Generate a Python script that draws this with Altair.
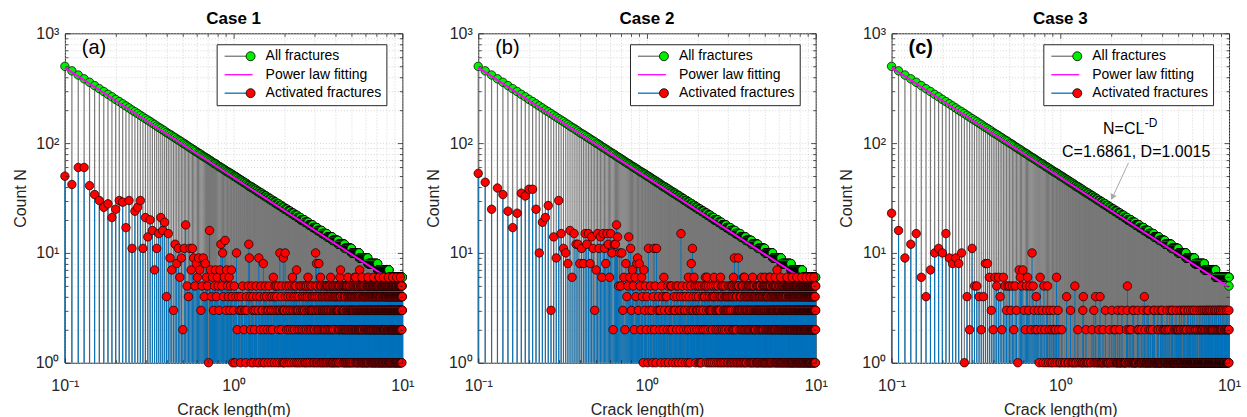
import altair as alt
import numpy as np
import pandas as pd

FONT = "Liberation Sans"
INK = "#262626"
GREEN = "#00ee00"
RED = "#ff0000"
BLUE = "#0072bd"
GRAY = "#787878"
MAGENTA = "#ff00ff"
ARROW = "#a8a8a8"

# ---------------- data ----------------
# crack-length bins (m): 0.10 ... 10.00, one bin per 0.01 m
LENGTH_BINS_CM = np.arange(10, 1001)
LENGTHS = LENGTH_BINS_CM / 100.0

# all fractures, bins 0.10 ... 0.99 m
ALL_HEAD = [500, 455, 417, 385, 358, 334, 313, 295, 278, 264,
            250, 239, 228, 218, 209, 200, 193, 186, 179, 173,
            167, 162, 157, 152, 148, 143, 139, 136, 132, 129,
            125, 122, 120, 117, 114, 112, 109, 107, 105, 103,
            100, 99, 97, 95, 93, 91, 90, 88, 87, 85,
            84, 82, 81, 80, 79, 77, 76, 75, 74, 73,
            72, 71, 70, 69, 68, 67, 66, 65, 65, 64,
            63, 62, 61, 61, 60, 59, 59, 58, 57, 57,
            56, 55, 55, 54, 54, 53, 53, 52, 52, 51]
# all fractures from 1.00 m on: count and number of consecutive bins holding it
ALL_RUN_VALUES = [50, 49, 48, 47, 46, 45, 44, 43, 42, 41, 40, 39, 38, 37, 36, 35,
                  34, 33, 32, 31, 30, 29, 28, 27, 26, 25, 24, 23, 22, 21, 20, 19,
                  18, 17, 16, 15, 14, 13, 12, 11, 10, 9, 8, 7, 6, 5]
ALL_RUN_LENGTHS = [3, 2, 2, 2, 3, 2, 3, 3, 2, 3, 4, 3, 4, 3, 4, 5,
                   4, 5, 5, 5, 6, 6, 7, 7, 7, 9, 9, 10, 11, 11, 14, 14,
                   17, 18, 21, 24, 27, 32, 38, 45, 56, 69, 90, 119, 166, 1]

# activated fractures, bins 0.10 ... 0.69 m
ACT_HEAD_A = [50, 42, 60, 60, 41, 34, 30, 26, 28, 21,
              25, 30, 29, 17, 30, 11, 24, 26, 30, 11,
              21, 14, 20, 16, 7, 11, 15, 21, 16, 19,
              4, 15, 9, 7, 3, 12, 8, 11, 6, 9,
              2, 11, 18, 5, 4, 11, 7, 11, 9, 5,
              8, 6, 9, 7, 3, 5, 9, 4, 8, 6]
ACT_HEAD_B = [53, 44, 25, 39, 34, 24, 17, 23, 35, 33,
              38, 38, 25, 10, 19, 21, 27, 3, 14, 9,
              30, 15, 11, 10, 8, 16, 6, 15, 12, 12,
              8, 11, 8, 15, 12, 15, 8, 14, 11, 3,
              7, 15, 11, 14, 6, 15, 11, 8, 15, 12,
              6, 15, 10, 2, 12, 12, 18, 14, 5, 10]
ACT_HEAD_C = [23, 16, 9, 12, 15, 6, 4, 7, 10, 11,
              10, 15, 9, 8, 9, 8, 10, 1, 4, 2,
              11, 5, 5, 4, 2, 4, 8, 8, 6, 3,
              2, 6, 5, 6, 4, 2, 6, 5, 3, 5,
              5, 3, 5, 2, 5, 3, 1, 7, 6, 5,
              7, 3, 2, 5, 6, 3, 5, 2, 10, 5]

# activated fractures, bins 0.70 ... 10.00 m, one base-36 digit per bin (0 = none)
ACT_DENSE_A = [
    "51g7463574", "6537c5a46d", "3754635741",
    "3514a20433", "1435023314", "305c942153", "4132035410", "3914250331",
    "8241530423", "1350423134", "2063145035", "41305231a3", "0425133913",
    "31a4052313", "4205133240", "1536204315", "2403517342", "3130425103",
    "3520143235", "0413325140", "5231406352", "1403325134", "3250431302",
    "412035a431", "8025143320", "8314025631", "0524133402", "3150423315",
    "2403135042", "5132403351", "0425316240", "3315024153", "1240533314",
    "4025133043", "1530423315", "2413052640", "7041352303", "3520413325",
    "1033425140", "4215033251", "0354126430", "2315043152", "5041323304",
    "1325043231", "4051332504", "3260415326", "0413523041", "2533014352",
    "4102533274", "3140325031", "0523416352", "3214035140", "3405123304",
    "2153403231", "4033125403", "1524036152", "3041523340", "5230413235",
    "0415323041", "2335014352", "4103526214", "3250413305", "1423035142",
    "3041523340", "5214033251", "0352416304", "6150324133", "2403513240",
    "4125033153", "3502413325", "1046325041", "2315043232", "5024133405",
    "3150423314", "5041325303", "2405136240", "1523043315", "4032513342",
    "0314325041", "3250413235", "4103526204", "2533014352", "1402533143",
    "3025143302", "4153023415", "0342516234", "5104323140", "2435013325",
    "3041523403", "1520433152", "4036125340", "2514033214", "3405123343",
    "4",
]
ACT_DENSE_B = [
    "5a362845e6", "b375264893", "8526417352",
    "41b3052314", "b251b30432", "3150426314", "0425133250", "5213043315",
    "240513324f", "3150423031", "4025316240", "135823b043", "6205143325",
    "3041523130", "1524033245", "4062513604", "2513043312", "5304123450",
    "6140325031", "2435013243", "0316425150", "4205133324", "1530423041",
    "3041523304", "2513043152", "0425136240", "9152033415", "2403135093",
    "5130423314", "0425133250", "3516024136", "4203513240", "1350423305",
    "2415033241", "5032413350", "1246035124", "3051423032", "4230135413",
    "0315243130", "2543013245", "5130426301", "3204135420", "1352043153",
    "6130425314", "2405133240", "5014323051", "3260415362", "1534023143",
    "4021533240", "0353124530", "2413056241", "5302413350", "7140323041",
    "3251043325", "0413523041", "4620135240", "2135043312", "5041323405",
    "1352043130", "3024513243", "0415236510", "2533014325", "4103523041",
    "5230143352", "0413325041", "3125046312", "4052133405", "1343025134",
    "2501433250", "4130523341", "0526314052", "3214053213", "5043123340",
    "1352043135", "4025133402", "2514036251", "0343125034", "5102433510",
    "3250413325", "1423035142", "4035126403", "2514303251", "0352413034",
    "5140323514", "2305143230", "4152036415", "1523043152", "3041523304",
    "0254133025", "5132403513", "2405136240", "4310523431", "1524033152",
    "3",
]
ACT_DENSE_C = [
    "3242316231", "5213512312", "1321261321",
    "1021001104", "0110031010", "1051100210", "0100113410", "1021010100",
    "0110200130", "1041001012", "0140101102", "1010031010", "0110120010",
    "1030010120", "0120011013", "1001021101", "0130010011", "1001101203",
    "5011002100", "1020110013", "0131010110", "1010012030", "0121010100",
    "1021011003", "0110041021", "1001101310", "0130120101", "1012001010",
    "0121003010", "1031110100", "0110012013", "1201101100", "0112013101",
    "1030012010", "0120101021", "1012011003", "0101021010", "1021003110",
    "0110012013", "1031001011", "0120110102", "1010031020", "0101012101",
    "1020011030", "0110201012", "1031001100", "0100121013", "1012010301",
    "0101002110", "1021010013", "0110310100", "1002011020", "0131001101",
    "1020110013", "0101201100", "1030010121", "0110021010", "1001031002",
    "0120101100", "1011003012", "0102110100", "1030012010", "0110201013",
    "1021001100", "0101301021", "1010012010", "0130101003", "1002011010",
    "0110230101", "1021001013", "0101120100", "1030012010", "0111002103",
    "1020101100", "0110021013", "1001103010", "0120010201", "1031001010",
    "0102110120", "1010031003", "0120101100", "1001021013", "0110302010",
    "1021001100", "0101021013", "1030101010", "0110012100", "1002013010",
    "0121001101", "1010120013", "0103011010", "1020101200", "0111002013",
    "2",
]

# power-law fit end points
FIT_L = [0.1, 10.0]
FIT_N = [487.0, 4.85]

TITLES = ["Case 1", "Case 2", "Case 3"]
TAGS = ["(a)", "(b)", "(c)"]
TAG_WEIGHTS = ["normal", "normal", "bold"]
SERIES = ["All fractures", "Power law fitting", "Activated fractures"]
FORMULA = ["N=CL", "-D", "C=1.6861, D=1.0015"]

X_MAJOR = [0.1, 1, 10]
X_MINOR = [0.2, 0.3, 0.4, 0.5, 0.6, 0.7, 0.8, 0.9, 2, 3, 4, 5, 6, 7, 8, 9]
Y_MAJOR = [1, 10, 100, 1000]
Y_MINOR = [2, 3, 4, 5, 6, 7, 8, 9, 20, 30, 40, 50, 60, 70, 80, 90,
           200, 300, 400, 500, 600, 700, 800, 900]

N_BINS = len(LENGTHS)


def fit_len(values):
    values = list(values)[:N_BINS]
    return values + [0] * (N_BINS - len(values))


ALL_COUNTS = fit_len(ALL_HEAD + list(np.repeat(ALL_RUN_VALUES, ALL_RUN_LENGTHS)))


def decode(groups):
    return [int(ch, 36) for ch in "".join(groups)]


ACTIVATED = [
    fit_len(ACT_HEAD_A + decode(ACT_DENSE_A)),
    fit_len(ACT_HEAD_B + decode(ACT_DENSE_B)),
    fit_len(ACT_HEAD_C + decode(ACT_DENSE_C)),
]

# ---------------- chart ----------------
W, H = 338, 330
XS = alt.Scale(type="log", domain=[0.1, 10], nice=False)
YS = alt.Scale(type="log", domain=[1, 1000], nice=False)
STROKE_SCALE = alt.Scale(domain=SERIES, range=[GRAY, MAGENTA, BLUE])
FILL_SCALE = alt.Scale(domain=["All", "Act"], range=[GREEN, RED])

X_LABELS = "datum.value == 0.1 ? '10⁻¹' : datum.value == 1 ? '10⁰' : datum.value == 10 ? '10¹' : ''"
Y_LABELS = ("datum.value == 1 ? '10⁰' : datum.value == 10 ? '10¹' : "
            "datum.value == 100 ? '10²' : datum.value == 1000 ? '10³' : ''")

LEGEND_A = alt.Legend(orient="none", legendX=152, legendY=11, title=None,
                      fillColor="white", strokeColor=INK, padding=5, cornerRadius=0,
                      symbolType="M-1,0L6,0", symbolSize=64, symbolStrokeWidth=1.3,
                      labelFontSize=14, labelFont=FONT, labelColor="black",
                      labelOffset=30, rowPadding=4.5, zindex=1)
LEGEND_B = alt.Legend(orient="none", legendX=175, legendY=12, title=None,
                      padding=4, symbolType="circle", symbolSize=81,
                      symbolStrokeColor="black", symbolStrokeWidth=0.8,
                      labelExpr="''", labelFontSize=14, rowPadding=23, zindex=2)


def main_x():
    return alt.Axis(values=X_MAJOR + X_MINOR, labelExpr=X_LABELS, ticks=False, domain=False,
                    grid=True, gridColor="#cccccc", gridDash=[1, 2], gridWidth=0.8,
                    labelFontSize=16, labelColor=INK, labelPadding=15, labelFlush=False,
                    labelOverlap=False, title="Crack length(m)", titleFontSize=16,
                    titleFontWeight="normal", titleColor=INK, titlePadding=8)


def main_y():
    return alt.Axis(values=Y_MAJOR + Y_MINOR, labelExpr=Y_LABELS, ticks=False, domain=False,
                    grid=True, gridColor="#cccccc", gridDash=[1, 2], gridWidth=0.8,
                    labelFontSize=16, labelColor=INK, labelPadding=6, labelFlush=False,
                    labelOverlap=False, title="Count N", titleFontSize=16,
                    titleFontWeight="normal", titleColor=INK, titlePadding=7)


def tick_axis(values, orient, size):
    return alt.Axis(values=values, orient=orient, offset=-size, tickSize=size,
                    tickColor=INK, tickWidth=0.8, labels=False, domain=False,
                    grid=False, title=None, zindex=2)


def panel(i):
    df_all = pd.DataFrame({"L": LENGTHS, "N": ALL_COUNTS, "base": 1.0,
                           "series": SERIES[0], "mk": "All"})
    df_act = pd.DataFrame({"L": LENGTHS, "N": ACTIVATED[i], "base": 1.0,
                           "series": SERIES[2], "mk": "Act"})
    df_act = df_act[df_act["N"] > 0]
    df_fit = pd.DataFrame({"L": FIT_L, "N": FIT_N, "series": SERIES[1]})

    xq = alt.X("L:Q", scale=XS, axis=None)
    yq = alt.Y("N:Q", scale=YS, axis=None)

    stems_all = alt.Chart(df_all).mark_rule(strokeWidth=1.2).encode(
        x=alt.X("L:Q", scale=XS, axis=main_x()),
        y=alt.Y("base:Q", scale=YS, axis=main_y()),
        y2="N:Q",
        stroke=alt.Stroke("series:N", scale=STROKE_SCALE, legend=LEGEND_A),
    )
    pts_all = alt.Chart(df_all).mark_point(shape="circle", filled=True, size=72,
                                           strokeWidth=0.7, opacity=1).encode(
        x=xq, y=yq,
        fill=alt.Fill("mk:N", scale=FILL_SCALE, legend=LEGEND_B),
        stroke=alt.value("black"),
    )
    fit = alt.Chart(df_fit).mark_line(strokeWidth=2).encode(
        x=xq, y=yq,
        stroke=alt.Stroke("series:N", scale=STROKE_SCALE, legend=LEGEND_A),
    )
    stems_act = alt.Chart(df_act).mark_rule(strokeWidth=1.0).encode(
        x=xq, y=alt.Y("base:Q", scale=YS, axis=None), y2="N:Q",
        stroke=alt.Stroke("series:N", scale=STROKE_SCALE, legend=LEGEND_A),
    )
    pts_act = alt.Chart(df_act).mark_point(shape="circle", filled=True, size=72,
                                           strokeWidth=0.7, opacity=1).encode(
        x=xq, y=yq,
        fill=alt.Fill("mk:N", scale=FILL_SCALE, legend=LEGEND_B),
        stroke=alt.value("black"),
    )
    ticks = []
    for xo, yo, xv, yv, s in [("bottom", "left", X_MAJOR, Y_MAJOR, 5),
                              ("bottom", "left", X_MINOR, Y_MINOR, 3),
                              ("top", "right", X_MAJOR, Y_MAJOR, 5),
                              ("top", "right", X_MINOR, Y_MINOR, 3)]:
        ticks.append(alt.Chart(df_fit).mark_point(opacity=0, size=1).encode(
            x=alt.X("L:Q", scale=XS, axis=tick_axis(xv, xo, s)),
            y=alt.Y("N:Q", scale=YS, axis=tick_axis(yv, yo, s)),
        ))
    tag = alt.Chart(pd.DataFrame({"t": [TAGS[i]]})).mark_text(
        fontSize=20, align="left", baseline="alphabetic", font=FONT, color="black",
        fontWeight=TAG_WEIGHTS[i],
    ).encode(text="t:N", x=alt.value(17), y=alt.value(21))

    layers = [stems_all, pts_all, fit, stems_act, pts_act] + ticks + [tag]

    if i == 2:
        f1 = alt.Chart(pd.DataFrame({"t": [FORMULA[0]]})).mark_text(
            fontSize=16, align="center", baseline="alphabetic", font=FONT, color="black"
        ).encode(text="t:N", x=alt.value(232.5), y=alt.value(101))
        f2 = alt.Chart(pd.DataFrame({"t": [FORMULA[1]]})).mark_text(
            fontSize=12, align="left", baseline="alphabetic", font=FONT, color="black"
        ).encode(text="t:N", x=alt.value(253.5), y=alt.value(94))
        f3 = alt.Chart(pd.DataFrame({"t": [FORMULA[2]]})).mark_text(
            fontSize=16, align="center", baseline="alphabetic", font=FONT, color="black"
        ).encode(text="t:N", x=alt.value(245), y=alt.value(124))
        arrow = alt.Chart(pd.DataFrame({"t": [0]})).mark_rule(
            color=ARROW, strokeWidth=1
        ).encode(x=alt.value(237.3), y=alt.value(129.7), x2=alt.value(221.5), y2=alt.value(164))
        head = alt.Chart(pd.DataFrame({"t": [0]})).mark_point(
            shape="triangle-down", filled=True, size=45, angle=24.7, color=ARROW, opacity=1
        ).encode(x=alt.value(221.2), y=alt.value(164.2))
        layers += [arrow, head, f1, f2, f3]

    return alt.layer(*layers).resolve_axis(x="independent", y="independent").properties(
        width=W, height=H,
        title=alt.TitleParams(TITLES[i], fontSize=17, fontWeight="bold", font=FONT,
                              color="black", offset=-3, anchor="middle"),
    )


chart = alt.hconcat(panel(0), panel(1), panel(2), spacing=76, bounds="flush").resolve_legend(
    stroke="independent", fill="independent"
).properties(
    padding={"left": 11, "top": 9, "right": 5, "bottom": 0},
    background="white",
).configure_view(stroke=INK, strokeWidth=1).configure_axis(
    labelFont=FONT, titleFont=FONT
).configure_legend(labelFont=FONT)

chart.save("out.html", embed_options={"renderer": "svg", "actions": False})
